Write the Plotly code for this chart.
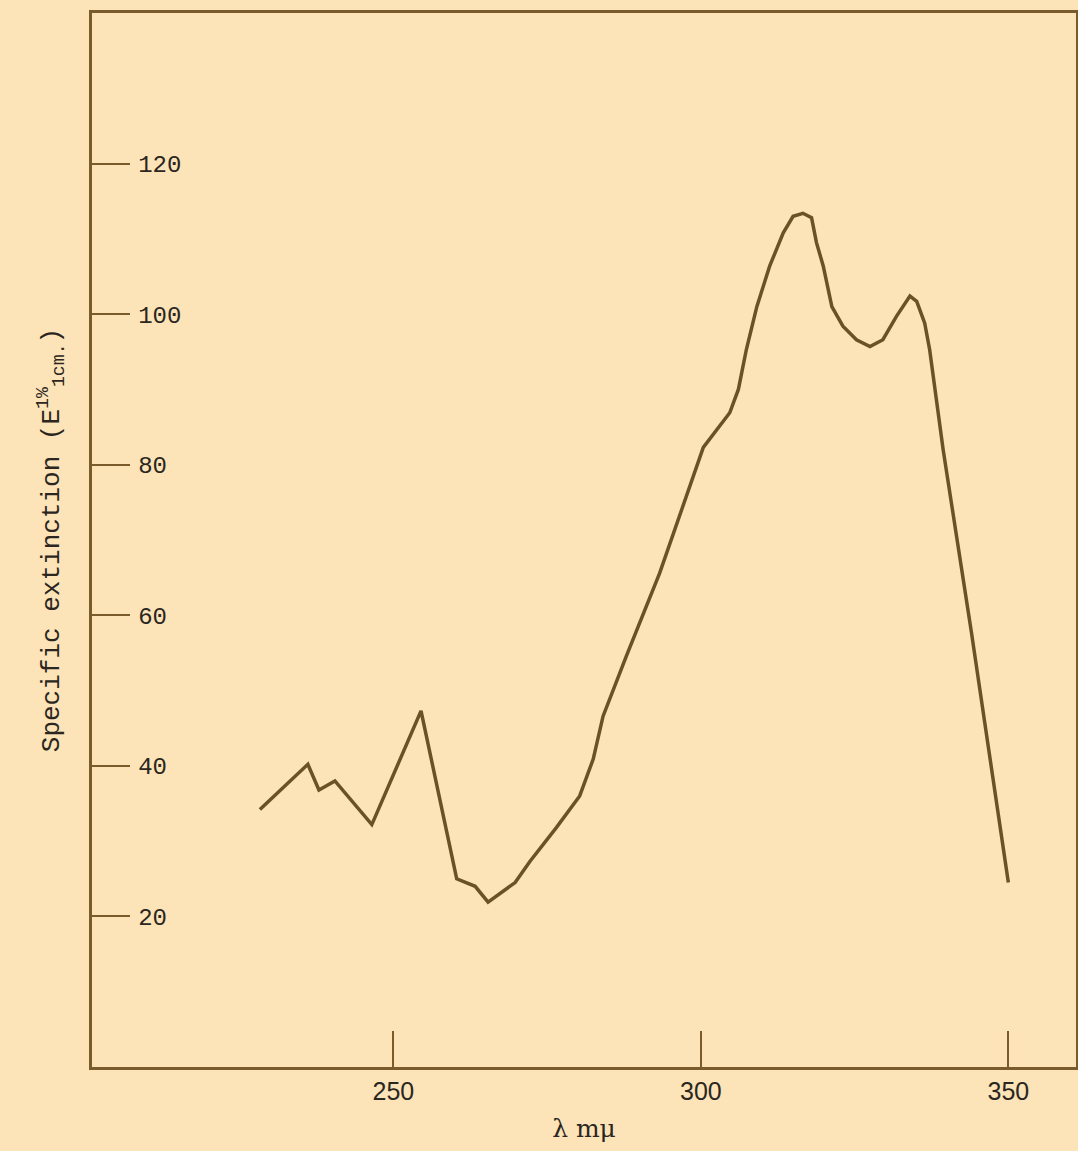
import plotly.graph_objects as go

# Wavelength (m\u03bc) and specific extinction values
wavelength = [228.3, 236.1, 237.9, 240.5, 246.5, 254.5, 260.3, 263.3, 265.4, 269.8,
              272.2, 276.5, 280.3, 282.5, 284.1, 287.9, 293.3, 298.8, 300.4, 304.7,
              306.1, 307.4, 309.1, 311.2, 313.4, 315.0, 316.6, 318.0, 318.8, 319.9,
              321.3, 323.1, 325.3, 327.5, 329.6, 331.8, 334.0, 335.1, 336.4, 337.2,
              338.3, 339.4, 344.0, 350.0]
extinction = [34.2, 40.2, 36.8, 38.0, 32.2, 47.3, 25.0, 24.0, 21.9, 24.5,
              27.3, 31.8, 36.0, 40.9, 46.6, 54.6, 65.6, 78.5, 82.3, 86.9,
              90.0, 95.3, 101.0, 106.4, 110.8, 113.0, 113.4, 112.8, 109.5, 106.4,
              101.0, 98.4, 96.6, 95.7, 96.6, 99.7, 102.4, 101.7, 98.8, 95.3,
              88.7, 82.0, 57.7, 24.5]

x_ticks = [250, 300, 350]
y_ticks = [20, 40, 60, 80, 100, 120]

paper = "#FCE4B8"
ink = "#6B5226"
frame = "#7A5C2C"
text = "#2B2620"

fig = go.Figure()
fig.add_trace(go.Scatter(x=wavelength, y=extinction, mode="lines",
                         line=dict(color=ink, width=3.5), showlegend=False,
                         hoverinfo="skip"))

fig.update_layout(
    width=1078, height=1151,
    margin=dict(l=92, r=2, t=13, b=84, autoexpand=False),
    paper_bgcolor=paper, plot_bgcolor=paper,
    showlegend=False,
)
fig.update_xaxes(
    range=[201, 361], tickvals=x_ticks, ticktext=[str(v) for v in x_ticks],
    ticks="inside", ticklen=36, tickwidth=2, tickcolor=frame,
    showline=True, linecolor=frame, linewidth=3, mirror=True,
    showgrid=False, zeroline=False, automargin=False,
    tickfont=dict(family="Liberation Sans, Arial, sans-serif", size=25, color=text),
    title=dict(text="\u03bb m\u03bc", standoff=16,
               font=dict(family="DejaVu Serif, serif", size=25, color=text)),
)
fig.update_yaxes(
    range=[0, 140], tickvals=y_ticks, ticktext=[str(v) for v in y_ticks],
    ticks="inside", ticklen=38, tickwidth=2, tickcolor=frame,
    ticklabelposition="inside", ticklabelstandoff=10,
    showline=True, linecolor=frame, linewidth=3, mirror=True,
    showgrid=False, zeroline=False, automargin=False,
    tickfont=dict(family="Liberation Mono, Courier New, monospace", size=24, color=text),
    title=dict(text="Specific extinction (E<sup>1%</sup><sub>1cm.</sub>)", standoff=72,
               font=dict(family="Liberation Mono, Courier New, monospace", size=26, color=text)),
)

fig.write_html(
    "out.html",
    config={"displayModeBar": False},
    post_script="document.body.style.margin='0';document.body.style.background='#FCE4B8';",
)
